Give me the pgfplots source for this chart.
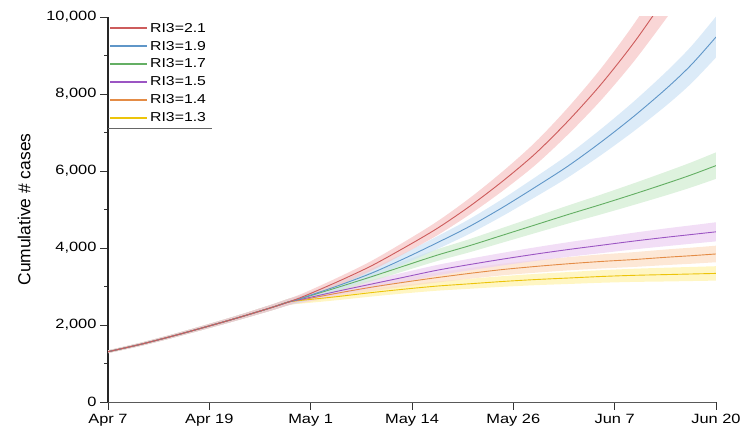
\documentclass[border=0pt]{standalone}
\usepackage{fontspec}
\setmainfont{Liberation Sans}[FakeStretch=1.22]
\newfontfamily\labelfont{Liberation Sans}
\usepackage{pgfplots}
\pgfplotsset{compat=1.18}
\usepackage{pgfplotstable}
\usepgfplotslibrary{fillbetween}

\definecolor{redline}{RGB}{205,92,92}
\definecolor{redband}{RGB}{246,196,196}
\definecolor{blueline}{RGB}{95,150,200}
\definecolor{blueband}{RGB}{205,226,245}
\definecolor{greenline}{RGB}{100,175,100}
\definecolor{greenband}{RGB}{208,236,208}
\definecolor{purpleline}{RGB}{155,85,195}
\definecolor{purpleband}{RGB}{236,208,242}
\definecolor{orangeline}{RGB}{228,140,70}
\definecolor{orangeband}{RGB}{252,222,196}
\definecolor{yellowline}{RGB}{236,196,10}
\definecolor{yellowband}{RGB}{255,243,175}

\pgfplotstableread{
d y lo hi
0 1306 1271 1341
4 1500 1459 1541
8 1720 1674 1766
12 1956 1903 2009
16 2200 2138 2262
20 2460 2386 2534
22 2600 2519 2681
24 2760 2672 2848
28 3130 3024 3236
32 3530 3403 3657
36 4000 3848 4152
40 4500 4320 4680
44 5080 4867 5293
48 5730 5478 5982
52 6450 6153 6747
56 7300 6950 7650
60 8250 7837 8663
64 9330 8845 9815
68 10550 9980 11120
70 11200 10584 11816
}\tR
\pgfplotstableread{
d y lo hi
0 1306 1271 1341
4 1500 1459 1541
8 1720 1674 1766
12 1956 1903 2009
16 2200 2138 2262
20 2460 2386 2534
22 2600 2519 2681
24 2730 2643 2817
28 3020 2917 3123
32 3340 3220 3460
36 3720 3579 3861
40 4130 3965 4295
44 4560 4368 4752
48 5050 4828 5272
52 5580 5323 5837
56 6130 5836 6424
60 6750 6412 7088
64 7420 7034 7806
68 8150 7710 8590
71 8760 8278 9242
74 9480 8949 10011
}\tB
\pgfplotstableread{
d y lo hi
0 1306 1271 1341
4 1500 1459 1541
8 1720 1674 1766
12 1956 1903 2009
16 2200 2138 2262
20 2460 2386 2534
22 2600 2519 2681
24 2720 2633 2807
28 2980 2879 3081
32 3250 3133 3367
36 3530 3396 3664
40 3810 3658 3962
44 4060 3889 4231
48 4330 4139 4521
52 4600 4388 4812
56 4870 4636 5104
60 5130 4873 5387
64 5400 5119 5681
68 5680 5373 5987
71 5900 5575 6225
74 6140 5796 6484
}\tG
\pgfplotstableread{
d y lo hi
0 1306 1271 1341
4 1500 1459 1541
8 1720 1674 1766
12 1956 1903 2009
16 2200 2138 2262
20 2460 2386 2534
22 2600 2519 2681
24 2690 2604 2776
28 2880 2782 2978
32 3060 2950 3170
36 3240 3117 3363
40 3420 3283 3557
44 3570 3420 3720
48 3710 3547 3873
52 3840 3663 4017
56 3960 3770 4150
60 4070 3866 4274
64 4180 3963 4397
68 4280 4049 4511
71 4350 4111 4589
74 4420 4172 4668
}\tP
\pgfplotstableread{
d y lo hi
0 1306 1271 1341
4 1500 1459 1541
8 1720 1674 1766
12 1956 1903 2009
16 2200 2138 2262
20 2460 2386 2534
22 2600 2519 2681
24 2670 2585 2755
28 2830 2734 2926
32 2980 2873 3087
36 3110 2992 3228
40 3230 3101 3359
44 3340 3200 3480
48 3440 3289 3591
52 3520 3358 3682
56 3590 3418 3762
60 3650 3467 3833
64 3700 3508 3892
68 3760 3557 3963
71 3800 3591 4009
74 3845 3630 4060
}\tO
\pgfplotstableread{
d y lo hi
0 1306 1271 1341
4 1500 1459 1541
8 1720 1674 1766
12 1956 1903 2009
16 2200 2138 2262
20 2460 2386 2534
22 2600 2519 2681
24 2650 2565 2735
28 2740 2647 2833
32 2840 2738 2942
36 2930 2819 3041
40 3010 2890 3130
44 3070 2941 3199
48 3130 2992 3268
52 3180 3034 3326
56 3220 3065 3375
60 3260 3097 3423
64 3290 3119 3461
68 3310 3131 3489
71 3325 3142 3508
74 3340 3153 3527
}\tY

\begin{document}
\begin{tikzpicture}
\begin{axis}[
  scale only axis, width=608bp, height=385bp,
  xmin=0, xmax=74, ymin=0, ymax=10000,
  axis x line*=bottom, axis y line*=left,
  x axis line style={black!65, line width=1bp, -},
  y axis line style={black!85, line width=1.1bp, -},
  xtick={0,12.3333,24.6667,37,49.3333,61.6667,74},
  xticklabels={Apr 7,Apr 19,May 1,May 14,May 26,Jun 7,Jun 20},
  ytick={0,2000,4000,6000,8000,10000},
  minor y tick num=1,
  tick align=outside,
  major tick length=8bp, minor tick length=4bp,
  tick style={black!80, line width=0.9bp},
  scaled y ticks=false,
  /pgf/number format/assume math mode=true,
  /pgf/number format/1000 sep={,},
  tick label style={font=\fontsize{13.5}{16}\selectfont, text=black},
  xticklabel style={yshift=-1bp},
  ylabel={Cumulative \# cases},
  every axis y label/.style={at={(axis description cs:-0.138,0.5)}, anchor=center, rotate=90, font=\labelfont\fontsize{17.5}{20}\selectfont, text=black},
  legend image code/.code={\draw[#1] (0bp,0bp) -- (37bp,0bp);},
  legend cell align=left,
  legend style={at={(rel axis cs:0,1)}, anchor=north west, yshift=-3bp, draw=none, fill=none,
    font=\fontsize{13}{15}\selectfont, text=black, inner xsep=1bp, inner ysep=1bp, row sep=3.3bp,
    /tikz/every even column/.append style={column sep=3bp}},
]
\addlegendimage{draw=redline, line width=2bp}\addlegendentry{RI3=2.1}
\addlegendimage{draw=blueline, line width=2bp}\addlegendentry{RI3=1.9}
\addlegendimage{draw=greenline, line width=2bp}\addlegendentry{RI3=1.7}
\addlegendimage{draw=purpleline, line width=2bp}\addlegendentry{RI3=1.5}
\addlegendimage{draw=orangeline, line width=2bp}\addlegendentry{RI3=1.4}
\addlegendimage{draw=yellowline, line width=2bp}\addlegendentry{RI3=1.3}

% bands
\addplot[name path=Yhi, draw=none, forget plot, smooth] table[x=d,y=hi]{\tY};
\addplot[name path=Ylo, draw=none, forget plot, smooth] table[x=d,y=lo]{\tY};
\addplot[yellowband, fill opacity=0.75, forget plot] fill between[of=Yhi and Ylo];
\addplot[name path=Ohi, draw=none, forget plot, smooth] table[x=d,y=hi]{\tO};
\addplot[name path=Olo, draw=none, forget plot, smooth] table[x=d,y=lo]{\tO};
\addplot[orangeband, fill opacity=0.7, forget plot] fill between[of=Ohi and Olo];
\addplot[name path=Phi, draw=none, forget plot, smooth] table[x=d,y=hi]{\tP};
\addplot[name path=Plo, draw=none, forget plot, smooth] table[x=d,y=lo]{\tP};
\addplot[purpleband, fill opacity=0.7, forget plot] fill between[of=Phi and Plo];
\addplot[name path=Ghi, draw=none, forget plot, smooth] table[x=d,y=hi]{\tG};
\addplot[name path=Glo, draw=none, forget plot, smooth] table[x=d,y=lo]{\tG};
\addplot[greenband, fill opacity=0.7, forget plot] fill between[of=Ghi and Glo];
\addplot[name path=Bhi, draw=none, forget plot, smooth] table[x=d,y=hi]{\tB};
\addplot[name path=Blo, draw=none, forget plot, smooth] table[x=d,y=lo]{\tB};
\addplot[blueband, fill opacity=0.7, forget plot] fill between[of=Bhi and Blo];
\addplot[name path=Rhi, draw=none, forget plot, smooth] table[x=d,y=hi]{\tR};
\addplot[name path=Rlo, draw=none, forget plot, smooth] table[x=d,y=lo]{\tR};
\addplot[redband, fill opacity=0.7, forget plot] fill between[of=Rhi and Rlo];

% lines
\addplot[yellowline, line width=0.9bp, smooth, forget plot] table[x=d,y=y]{\tY};
\addplot[orangeline, line width=0.9bp, smooth, forget plot] table[x=d,y=y]{\tO};
\addplot[purpleline, line width=0.9bp, smooth, forget plot] table[x=d,y=y]{\tP};
\addplot[greenline, line width=0.9bp, smooth, forget plot] table[x=d,y=y]{\tG};
\addplot[blueline, line width=0.9bp, smooth, forget plot] table[x=d,y=y]{\tB};
\addplot[redline, line width=0.9bp, smooth, forget plot] table[x=d,y=y]{\tR};

\draw[black!60, line width=0.9bp] (rel axis cs:0,0.7117) -- (rel axis cs:0.171,0.7117);
\end{axis}
\pgfresetboundingbox
\path[use as bounding box] (-108bp,-27bp) rectangle (643bp,402bp);
\end{tikzpicture}
\end{document}
